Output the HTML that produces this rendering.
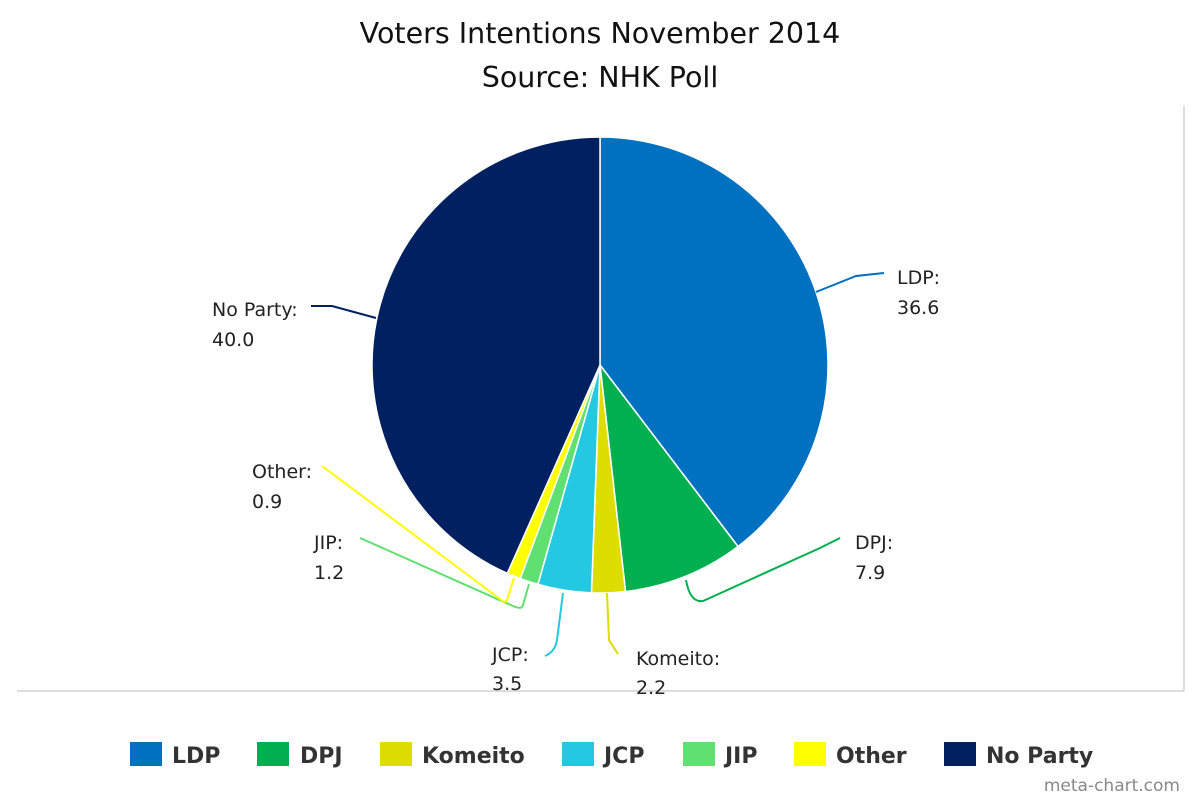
<!DOCTYPE html>
<html><head><meta charset="utf-8"><style>
html,body{margin:0;padding:0;background:#fff;width:1200px;height:800px;overflow:hidden}
</style></head><body>
<svg id="s" width="1200" height="800" xmlns="http://www.w3.org/2000/svg" font-family="'DejaVu Sans', sans-serif">
<rect width="1200" height="800" fill="#fff"/>
<line x1="1184" y1="106" x2="1184" y2="691" stroke="#ddd" stroke-width="2"/>
<line x1="17" y1="691" x2="1184" y2="691" stroke="#ddd" stroke-width="2"/>
<text x="600" y="43" text-anchor="middle" font-size="28.5" fill="#111">Voters Intentions November 2014</text>
<text x="600" y="87" text-anchor="middle" font-size="28.5" fill="#111">Source: NHK Poll</text>
<g id="pie"></g>
<g fill="#222" font-size="19">
<text x="897" y="284">LDP:</text><text x="897" y="314">36.6</text>
<text x="855" y="549">DPJ:</text><text x="855" y="579">7.9</text>
<text x="636" y="665">Komeito:</text><text x="636" y="694">2.2</text>
<text x="492" y="661">JCP:</text><text x="492" y="690">3.5</text>
<text x="314" y="549">JIP:</text><text x="314" y="579">1.2</text>
<text x="252" y="478">Other:</text><text x="252" y="508">0.9</text>
<text x="212" y="316">No Party:</text><text x="212" y="346">40.0</text>
</g>
<g fill="none" stroke-width="2">
<path d="M816 292 L856 276 L884 273" stroke="#0070c0"/>
<path d="M686 580 Q690 603 703 601 L820 548 L840 538" stroke="#00b050"/>
<path d="M607 593 L609 640 L618 654" stroke="#dddd00"/>
<path d="M563 593 L557 640 Q555 652 545 656" stroke="#24c8e0"/>
<path d="M529 584 L523 605 Q522 610 513 606 L360 538" stroke="#60e070"/>
<path d="M514 578 L507 600 Q505 604 500 599 L322 466" stroke="#ffff00"/>
<path d="M376 318 L332 306 L311 306" stroke="#002060"/>
</g>
<g font-size="22" font-weight="bold" fill="#333">
<rect x="130" y="742" width="32" height="24" fill="#0070c0"/><text x="172" y="763">LDP</text>
<rect x="257" y="742" width="32" height="24" fill="#00b050"/><text x="300" y="763">DPJ</text>
<rect x="380" y="742" width="32" height="24" fill="#dddd00"/><text x="422" y="763">Komeito</text>
<rect x="562" y="742" width="32" height="24" fill="#24c8e0"/><text x="604" y="763">JCP</text>
<rect x="683" y="742" width="32" height="24" fill="#60e070"/><text x="725" y="763">JIP</text>
<rect x="794" y="742" width="32" height="24" fill="#ffff00"/><text x="836" y="763">Other</text>
<rect x="944" y="742" width="32" height="24" fill="#002060"/><text x="986" y="763">No Party</text>
</g>
<text x="1180" y="791" text-anchor="end" font-size="17" fill="#888">meta-chart.com</text>
</svg>
<script>
var d=[[36.6,"#0070c0"],[7.9,"#00b050"],[2.2,"#dddd00"],[3.5,"#24c8e0"],[1.2,"#60e070"],[0.9,"#ffff00"],[40,"#002060"]];
var t=0;d.forEach(function(x){t+=x[0]});
var cx=600,cy=365,r=228,a=0,h="";
function p(an){return [cx+r*Math.sin(an),cy-r*Math.cos(an)];}
d.forEach(function(x){var b=a+x[0]/t*2*Math.PI;var s=p(a),e=p(b);
h+='<path d="M'+cx+' '+cy+' L'+s[0].toFixed(2)+' '+s[1].toFixed(2)+' A'+r+' '+r+' 0 '+((b-a)>Math.PI?1:0)+' 1 '+e[0].toFixed(2)+' '+e[1].toFixed(2)+' Z" fill="'+x[1]+'" stroke="#fff" stroke-width="1.5"/>';a=b;});
document.getElementById("pie").innerHTML=h;
</script>
</body></html>
